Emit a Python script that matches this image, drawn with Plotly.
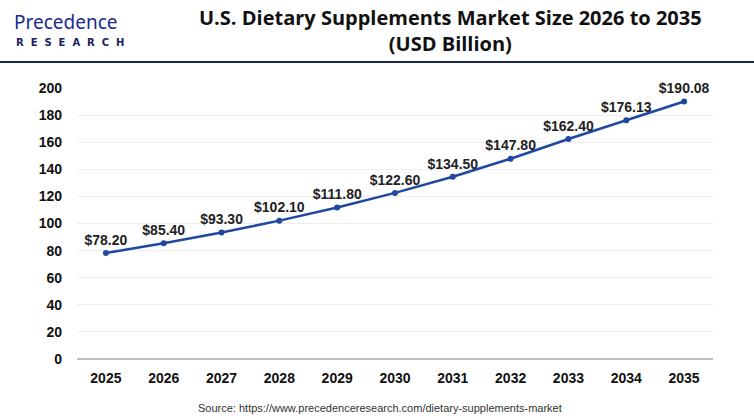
import plotly.graph_objects as go

years = ["2025", "2026", "2027", "2028", "2029", "2030", "2031", "2032", "2033", "2034", "2035"]
values = [78.20, 85.40, 93.30, 102.10, 111.80, 122.60, 134.50, 147.80, 162.40, 176.13, 190.08]
labels = ["$%.2f" % v for v in values]
y_ticks = [0, 20, 40, 60, 80, 100, 120, 140, 160, 180, 200]

W, H = 754, 418
L, R, T, B = 77, 41, 88, 59
PW, PH = W - L - R, H - T - B


def px(x):
    return (x - L) / PW


def py(y):
    return (H - B - y) / PH


fig = go.Figure()
fig.add_trace(go.Scatter(
    x=years, y=values, mode="lines+markers+text",
    text=labels, textposition="top center",
    textfont=dict(family="Liberation Sans, Arial", size=14, color="#222222", weight="bold"),
    line=dict(color="#1f48a0", width=2.5),
    marker=dict(color="#1f48a0", size=6),
    cliponaxis=False, showlegend=False,
))

fig.update_layout(
    width=W, height=H,
    margin=dict(l=L, r=R, t=T, b=B),
    paper_bgcolor="white", plot_bgcolor="white",
    xaxis=dict(type="category", range=[-0.5, 10.5], showgrid=False,
               tickfont=dict(family="Liberation Sans, Arial", size=14, color="#111111", weight="bold"),
               ticklabelstandoff=9, showline=False, zeroline=False),
    yaxis=dict(range=[0, 200], tickvals=y_ticks, showgrid=True, gridcolor="#eeeeee", gridwidth=1,
               zeroline=True, zerolinecolor="#bdbdbd", zerolinewidth=1.5,
               tickfont=dict(family="Liberation Sans, Arial", size=14, color="#111111", weight="bold"),
               ticklabelstandoff=14),
)

fig.add_annotation(text="<b>U.S. Dietary Supplements Market Size 2026 to 2035<br>(USD Billion)</b>",
                   xref="paper", yref="paper", x=px(450), y=py(31),
                   xanchor="center", yanchor="middle", showarrow=False,
                   font=dict(family="Open Sans", size=20, color="#111111"))
fig.add_shape(type="line", xref="paper", yref="paper",
              x0=px(0), x1=px(W), y0=py(62), y1=py(62),
              line=dict(color="#1c2550", width=2))
fig.add_annotation(text="Precedence", xref="paper", yref="paper",
                   x=px(12), y=py(22), xanchor="left", yanchor="middle",
                   showarrow=False, font=dict(family="Noto Sans", size=19, color="#1a2a8a"))
fig.add_annotation(text="<b>R&nbsp;&nbsp;E&nbsp;&nbsp;S&nbsp;&nbsp;E&nbsp;&nbsp;A&nbsp;&nbsp;R&nbsp;&nbsp;C&nbsp;&nbsp;H</b>",
                   xref="paper", yref="paper",
                   x=px(14), y=py(42), xanchor="left", yanchor="middle",
                   showarrow=False, font=dict(family="DejaVu Sans", size=10, color="#1a2160"))
fig.add_annotation(text="Source: https://www.precedenceresearch.com/dietary-supplements-market",
                   xref="paper", yref="paper", x=px(380), y=py(408),
                   xanchor="center", yanchor="middle", showarrow=False,
                   font=dict(family="Liberation Sans, Arial", size=11, color="#333333"))

fig.write_html("out.html", config={"displayModeBar": False},
               post_script="document.body.style.margin='0';document.body.style.overflow='hidden';")
